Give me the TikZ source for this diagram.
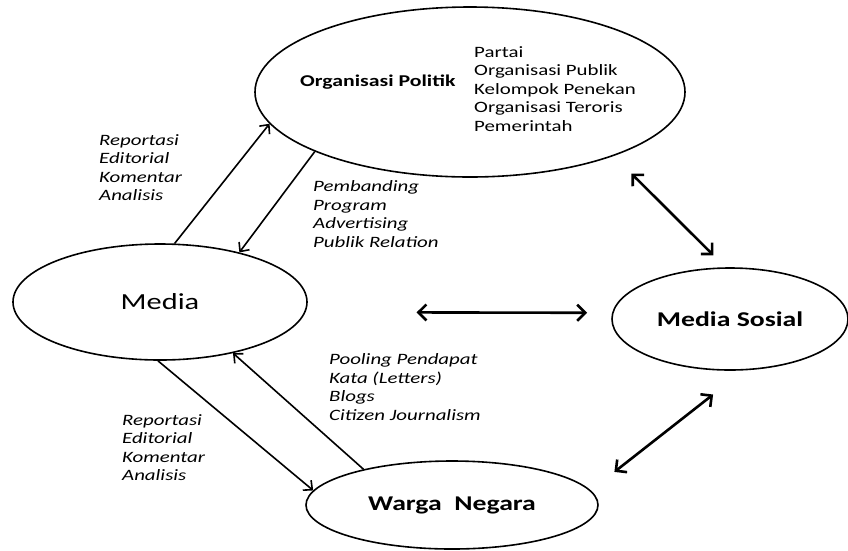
\documentclass[tikz,border=0pt]{standalone}
\usepackage{fontspec}
\setmainfont{Carlito}[FakeStretch=1.32]
\usetikzlibrary{shapes.geometric,arrows.meta}
\tikzset{
  bubble/.style={draw, ellipse, line width=1.6pt, inner sep=0pt},
  lst/.style={anchor=west, align=left, inner sep=0pt, font=\fontsize{15.8}{18.5}\selectfont},
  ilst/.style={lst, font=\fontsize{15.8}{18.5}\selectfont\itshape},
  thinarr/.style={line width=1.6pt, -{Straight Barb[length=7pt,width=13pt]}},
  thickarr/.style={line width=2.6pt, {Straight Barb[length=8pt,width=16pt]}-{Straight Barb[length=8pt,width=16pt]}}
}
\begin{document}
\begin{tikzpicture}[x=1pt,y=-1pt]
      \useasboundingbox (0,0) rectangle (848,550);
      \node[bubble, minimum width=430pt, minimum height=170pt] (org) at (470,92) {};
      \node[bubble, minimum width=294pt, minimum height=116pt,
        font=\fontsize{23}{26}\selectfont] (media) at (160,302) {Media\hspace{16pt}};
      \node[bubble, minimum width=236pt, minimum height=102pt,
        font=\fontsize{21}{24}\selectfont\bfseries] (sosial) at (730,319) {Media Sosial};
      \node[bubble, minimum width=292pt, minimum height=88pt,
        font=\fontsize{21}{24}\selectfont\bfseries] (warga) at (452,505) {Warga\ \ Negara};

      \node[lst, font=\fontsize{16.5}{19}\selectfont\bfseries] (orgname) at (300,82) {Organisasi Politik};
      \node[lst] (orglist) at (474,89) {Partai\\Organisasi Publik\\Kelompok Penekan\\Organisasi Teroris\\Pemerintah};

      \node[ilst] (lab1) at (99,167.5) {Reportasi\\Editorial\\Komentar\\Analisis};
      \node[ilst] (lab2) at (313,214) {Pembanding\\Program\\Advertising\\Publik Relation};
      \node[ilst] (lab3) at (329,387) {Pooling Pendapat\\Kata (Letters)\\Blogs\\Citizen Journalism};
      \node[ilst] (lab4) at (122,447.5) {Reportasi\\Editorial\\Komentar\\Analisis};

      \draw[thinarr] (media.76) -- (org.189);
      \draw[thinarr] (org.201.5) -- (media.32);
      \draw[thinarr] (media.-92) -- (warga.174);
      \draw[thinarr] (warga.158) -- (media.-35);

      \draw[thickarr, shorten <=25pt, shorten >=17pt] (org.-24.6) -- (sosial.95);
      \draw[thickarr, shorten <=111pt, shorten >=25pt] (media.-4.4) -- (sosial.177);
      \draw[thickarr, shorten <=39pt, shorten >=30pt] (sosial.-75) -- (warga.6);
\end{tikzpicture}
\end{document}
